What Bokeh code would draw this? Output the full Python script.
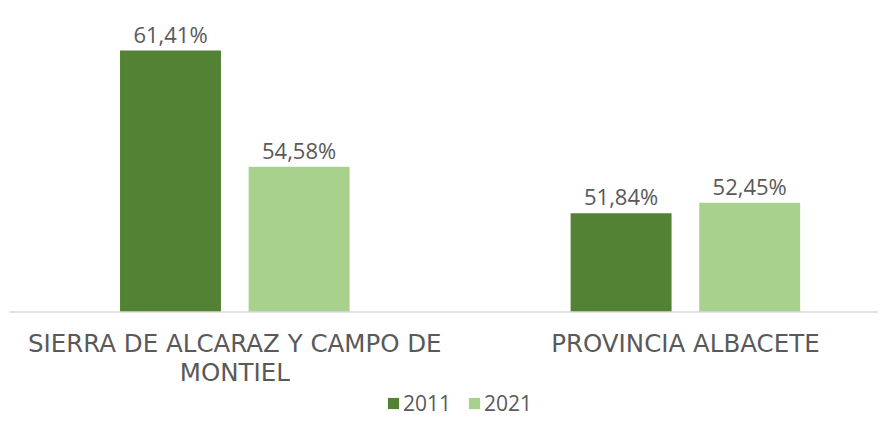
from bokeh.plotting import figure
from bokeh.models import Range1d, ColumnDataSource, Legend, LegendItem
from bokeh.core.properties import value
from bokeh.embed import file_html
from bokeh.resources import INLINE

categories = ["SIERRA DE ALCARAZ Y CAMPO DE\nMONTIEL", "PROVINCIA ALBACETE"]
series_names = ["2011", "2021"]
values_2011 = [61.41, 51.84]
values_2021 = [54.58, 52.45]
colors = ["#548235", "#A9D18E"]

BASE = 46.03
TXT = "#595959"
W, H = 878, 419
PX_PER_UNIT = 17.0
CAT_W = 450.6
X0 = 9        # px where category axis starts
Y_BASE = 311.5  # px of baseline from top

p = figure(width=W, height=H, output_backend="svg", toolbar_location=None,
           x_range=Range1d(-X0 / CAT_W, (W - X0) / CAT_W),
           y_range=Range1d(BASE - (H - Y_BASE) / PX_PER_UNIT, BASE + Y_BASE / PX_PER_UNIT),
           min_border=0, outline_line_color=None)
p.axis.visible = False
p.grid.visible = False
p.background_fill_color = None
p.border_fill_color = "white"

centers = [i + 0.5 for i in range(len(categories))]
offset = 0.1427
width = 0.224

renderers = []
for k, (vals, col) in enumerate(zip([values_2011, values_2021], colors)):
    xs = [c + (-offset if k == 0 else offset) for c in centers]
    src = ColumnDataSource(dict(x=xs, top=vals, bottom=[BASE] * len(vals),
                                lab=[f"{v:.2f}%".replace(".", ",") for v in vals]))
    r = p.vbar(x="x", top="top", bottom="bottom", width=width, source=src,
               fill_color=col, line_color=None)
    renderers.append(r)
    p.text(x="x", y="top", text="lab", source=src, y_offset=-17,
           text_align="center", text_baseline="alphabetic",
           text_font=value("Open Sans"), text_font_size="22px", text_color=TXT)

# axis line
p.segment(x0=[0], x1=[len(categories)], y0=[BASE], y1=[BASE],
          line_color="#D9D9D9", line_width=1.5)

# category labels
for c, cat in zip(centers, categories):
    for j, line in enumerate(cat.split("\n")):
        p.text(x=[c], y=[BASE], text=[line], y_offset=31.5 + 29 * j,
               text_align="center", text_baseline="middle",
               text_font=value("DejaVu Sans"), text_font_size="24.5px", text_color=TXT)

legend = Legend(items=[LegendItem(label=n, renderers=[r]) for n, r in zip(series_names, renderers)],
                orientation="horizontal", location=(386, 2),
                glyph_width=14, glyph_height=14, label_text_font="Open Sans",
                label_text_font_size="21px", label_text_color=TXT,
                label_standoff=3, spacing=16, padding=0, margin=0,
                border_line_color=None, background_fill_alpha=0)
p.add_layout(legend)

open("out.html", "w").write(file_html(p, INLINE))
